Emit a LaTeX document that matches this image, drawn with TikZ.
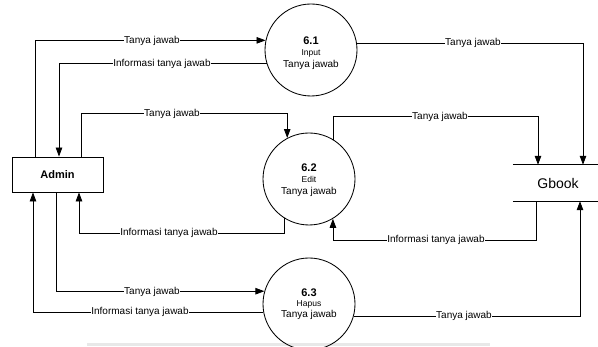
\documentclass[tikz,border=0pt]{standalone}
\usepackage{fontspec}
\setmainfont{Liberation Sans}
\usetikzlibrary{arrows.meta}

\tikzset{
  flow/.style={draw=black, line width=0.8pt, -{Triangle[length=9pt,width=6.5pt]}},
  plain/.style={draw=black, line width=0.8pt},
  proc/.style={circle, draw=black, line width=0.85pt, minimum size=92pt, inner sep=0pt},
  entity/.style={rectangle, draw=black, line width=0.85pt, minimum width=91pt, minimum height=35pt,
                 font=\fontsize{11}{13}\selectfont\bfseries},
  store/.style={rectangle, minimum width=90pt, minimum height=36pt, font=\fontsize{14}{16}\selectfont},
  lbl/.style={fill=white, inner sep=0.6pt, font=\fontsize{10}{12}\selectfont},
  pnum/.style={anchor=base, inner sep=0pt, font=\fontsize{11}{13}\selectfont\bfseries},
  pname/.style={anchor=base, inner sep=0pt, font=\fontsize{8.5}{10}\selectfont},
  pobj/.style={anchor=base, inner sep=0pt, font=\fontsize{10}{12}\selectfont},
}

\begin{document}
\begin{tikzpicture}[x=1pt, y=-1pt]
\useasboundingbox (0,0) rectangle (598,347);
\fill[white] (0,0) rectangle (598,347);

% faint rule along the bottom edge
\fill[gray!18] (87,343) rectangle (490,346);

% external entity, data store and processes
\node[entity] (admin) at (57.5,174.5) {Admin};
\node[store] (gbook) at (558,183) {Gbook};
\draw[plain] (gbook.north west) -- (gbook.north east);
\draw[plain] (gbook.south west) -- (gbook.south east);

\node[proc] (p61) at (311,50) {};
\node[proc] (p62) at (309,179) {};
\node[proc] (p63) at (309,304) {};

\node[pnum]  (n61) at (311,45) {6.1};
\node[pname] (m61) at (311,56) {Input};
\node[pobj]  (b61) at (311,68) {Tanya jawab};
\node[pnum]  (n62) at (309,172) {6.2};
\node[pname] (m62) at (309,183) {Edit};
\node[pobj]  (b62) at (309,195) {Tanya jawab};
\node[pnum]  (n63) at (309,297) {6.3};
\node[pname] (m63) at (309,307) {Hapus};
\node[pobj]  (b63) at (309,318) {Tanya jawab};

% flows for 6.1
\draw[flow] ([xshift=-22.5pt]admin.north) |- (p61.168.7);
\draw[flow] (p61.197.7) -| ([xshift=1.5pt]admin.north);
\draw[flow] (p61.8.75) -| ([xshift=25pt]gbook.north);

% flows for 6.2
\draw[flow] ([xshift=23.5pt]admin.north) |- ([yshift=24.6pt]p62.118.6) -- (p62.118.6);
\draw[flow] (p62.58.6) |- ([xshift=-20pt,yshift=48pt]gbook.north) -- ([xshift=-20pt]gbook.north);
\draw[flow] ([xshift=-22pt]gbook.south) -- ([xshift=-22pt,yshift=-39pt]gbook.south) -| (p62.301.4);
\draw[flow] (p62.238.6) |- ([xshift=21.5pt,yshift=-41pt]admin.south) -- ([xshift=21.5pt]admin.south);

% flows for 6.3
\draw[flow] ([xshift=-1.5pt]admin.south) |- (p63.164.9);
\draw[flow] (p63.191.3) -| ([xshift=-24.5pt]admin.south);
\draw[flow] (p63.344.9) -| ([xshift=22pt]gbook.south);

% flow labels
\node[lbl] (l1)  at (152,41)  {Tanya jawab};
\node[lbl] (l2)  at (162,64)  {Informasi tanya jawab};
\node[lbl] (l3)  at (172,114) {Tanya jawab};
\node[lbl] (l4)  at (473,43)  {Tanya jawab};
\node[lbl] (l5)  at (440,117) {Tanya jawab};
\node[lbl] (l6)  at (436,240) {Informasi tanya jawab};
\node[lbl] (l7)  at (169,233) {Informasi tanya jawab};
\node[lbl] (l8)  at (152,292) {Tanya jawab};
\node[lbl] (l9)  at (140,312) {Informasi tanya jawab};
\node[lbl] (l10) at (464,316) {Tanya jawab};
\end{tikzpicture}
\end{document}
